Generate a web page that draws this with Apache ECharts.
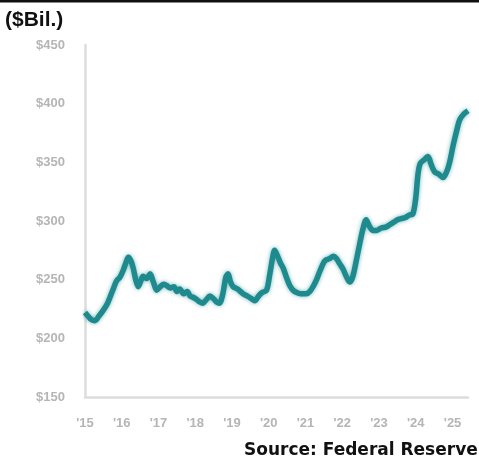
<!DOCTYPE html>
<html>
<head>
<meta charset="utf-8">
<script src="https://cdn.jsdelivr.net/npm/echarts@6/dist/echarts.min.js"></script>
<style>
html,body{margin:0;padding:0;background:#fff;}
#c{width:479px;height:464px;}
</style>
</head>
<body>
<div id="c"></div>
<script>
var yearTicks = ["'15","'16","'17","'18","'19","'20","'21","'22","'23","'24","'25"];
var yTickLabels = ["$150","$200","$250","$300","$350","$400","$450"];
var dates = [2015.00,2015.08,2015.17,2015.27,2015.38,2015.50,2015.60,2015.68,2015.78,2015.86,2015.95,
2016.04,2016.12,2016.18,2016.25,2016.31,2016.38,2016.45,2016.52,2016.58,2016.68,2016.77,2016.86,2016.95,
2017.05,2017.14,2017.22,2017.32,2017.42,2017.50,2017.58,2017.68,2017.78,2017.86,2017.94,
2018.04,2018.12,2018.21,2018.30,2018.40,2018.49,2018.58,2018.66,2018.75,2018.83,2018.89,2018.96,
2019.03,2019.15,2019.30,2019.42,2019.52,2019.62,2019.72,2019.82,2019.94,
2020.03,2020.10,2020.16,2020.24,2020.32,2020.39,2020.48,2020.57,2020.66,2020.76,2020.86,
2021.02,2021.12,2021.22,2021.30,2021.40,2021.50,2021.57,2021.66,2021.76,2021.84,2021.94,
2022.02,2022.12,2022.20,2022.28,2022.38,2022.47,2022.56,2022.65,2022.73,2022.83,2022.94,
2023.06,2023.20,2023.30,2023.40,2023.50,2023.60,2023.72,2023.82,2023.92,
2024.00,2024.06,2024.12,2024.22,2024.33,2024.42,2024.51,2024.62,2024.74,2024.84,2024.92,
2025.02,2025.12,2025.19,2025.30,2025.42];
var values = [222,219,216,215,219,224,229,235,243,249,252,
258,265,269,266,260,250,244,249,253,251,255,248,241,
244,246,245,243,244,240,242,238,240,236,235,
233,231,230,233,236,234,231,230,238,252,255,248,
244,242,238,236,234,232,236,239,241,
255,268,275,270,264,260,252,245,241,239,238,
238,240,245,250,258,265,267,268,270,268,263,
259,252,248,252,266,280,293,301,296,292,292,
294,295,297,299,301,302,303,305,306,
320,340,349,352,355,348,342,340,337,342,350,
365,378,386,391,394];

var chart = echarts.init(document.getElementById('c'));
var pts = dates.map(function(d,i){return [d, values[i]];});
chart.setOption({
  animation:false,
  backgroundColor:'#fff',
  title:[
    {text:'($Bil.)', left:5, top:10, padding:0, textStyle:{fontFamily:'Liberation Sans', fontWeight:'bold', fontSize:21, color:'#111'}},
    {text:'Source: Federal Reserve', left:244, top:442, padding:0, textStyle:{fontFamily:'DejaVu Sans', fontWeight:'bold', fontSize:17, color:'#111'}}
  ],
  graphic:[{type:'rect', shape:{x:0,y:0,width:479,height:2.5}, style:{fill:'#111'}}],
  grid:{left:85, right:11, top:45, bottom:67},
  xAxis:{
    type:'value', min:2015, max:2025.42, interval:1,
    axisLine:{show:true, lineStyle:{color:'#ddd', width:2.5}},
    axisTick:{show:false},
    splitLine:{show:false},
    axisLabel:{margin:20, color:'#b5b5b5', fontFamily:'Liberation Sans', fontWeight:'bold', fontSize:13,
      formatter:function(v){var i=Math.round(v-2015); return (Math.abs(v-Math.round(v))<1e-6 && i>=0 && i<yearTicks.length)?yearTicks[i]:'';}}
  },
  yAxis:{
    type:'value', min:150, max:450, interval:50,
    axisLine:{show:true, lineStyle:{color:'#ddd', width:2.5}},
    axisTick:{show:false},
    splitLine:{show:false},
    axisLabel:{margin:20, color:'#b5b5b5', fontFamily:'Liberation Sans', fontWeight:'bold', fontSize:13,
      formatter:function(v){var i=Math.round((v-150)/50); return yTickLabels[i]||'';}}
  },
  series:[{
    type:'line', data:pts, showSymbol:false, smooth:0.3,
    lineStyle:{color:'#1e8a8e', width:5.5, shadowBlur:4, shadowColor:'rgba(30,138,142,0.6)'}
  }]
});
</script>
</body>
</html>
